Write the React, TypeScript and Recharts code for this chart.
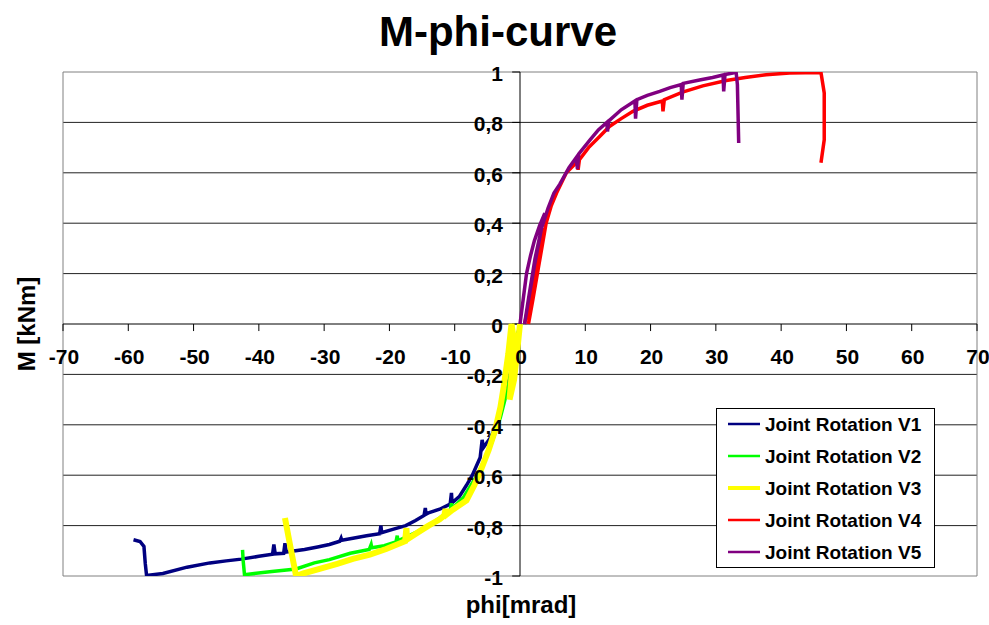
import React from 'react';
import {
  LineChart,
  Line,
  XAxis,
  YAxis,
  ReferenceLine,
  ReferenceDot,
  Legend
} from 'recharts';

// measured curves, phi in mrad, M in kNm
const phiV1 = [0, -0.7, -1.5, -2.3, -3.1, -3.2, -3.4, -4.5, -5.6, -5.8, -6.1, -7.3, -8.2, -9.3, -10.4, -10.5, -10.7, -12.3, -13.9, -14.4, -14.5, -14.7, -16, -17.5, -19.5, -21.2, -21.3, -21.5, -23.5, -25.6, -27.3, -27.4, -27.6, -29.2, -31, -33, -35.8, -36, -36.2, -37.5, -37.7, -37.9, -40, -42.7, -45, -47.5, -51, -54.7, -57.2, -57.4, -57.6, -58.2, -59.2];
const mV1 = [0, -0.09, -0.2, -0.29, -0.36, -0.34, -0.39, -0.45, -0.49, -0.46, -0.53, -0.6, -0.64, -0.685, -0.71, -0.67, -0.715, -0.735, -0.748, -0.755, -0.73, -0.76, -0.78, -0.8, -0.815, -0.828, -0.8, -0.832, -0.84, -0.85, -0.858, -0.85, -0.862, -0.875, -0.885, -0.895, -0.905, -0.87, -0.91, -0.912, -0.875, -0.914, -0.922, -0.933, -0.94, -0.948, -0.965, -0.99, -0.998, -0.95, -0.883, -0.863, -0.856];

const phiV2 = [0, -0.8, -1.8, -3, -4.3, -5.6, -6.8, -8, -8.7, -10.3, -10.5, -10.7, -12.3, -13.8, -16, -18.7, -18.8, -19, -20.8, -22.7, -22.8, -23.1, -26, -29.2, -31.5, -34.3, -38, -42.2, -42.4, -42.5];
const mV2 = [0, -0.1, -0.25, -0.37, -0.47, -0.55, -0.61, -0.66, -0.69, -0.73, -0.712, -0.74, -0.77, -0.796, -0.828, -0.86, -0.84, -0.865, -0.88, -0.888, -0.875, -0.895, -0.91, -0.935, -0.948, -0.972, -0.982, -0.995, -0.94, -0.896];

const phiV3 = [0, -0.4, -0.9, -1.6, -1.2, -1, -1.3, -1.8, -2.5, -3, -3.8, -4.8, -6, -7, -8.2, -10.3, -11.2, -11.4, -11.6, -12.3, -14, -15.4, -17.3, -17.4, -17.6, -20.5, -23, -25.6, -28, -30.7, -33.2, -34.3, -35.2, -36];
const mV3 = [0, -0.1, -0.22, -0.3, -0.18, -0.05, 0, -0.12, -0.25, -0.33, -0.42, -0.5, -0.58, -0.64, -0.7, -0.737, -0.755, -0.735, -0.76, -0.775, -0.8, -0.823, -0.855, -0.81, -0.862, -0.893, -0.915, -0.932, -0.952, -0.972, -0.99, -1, -0.88, -0.77];

const phiV4 = [0.7, 1.5, 2.3, 3, 3.5, 3, 2, 1.3, 2, 2.8, 3.4, 4, 4.8, 5.6, 7.1, 8.8, 8.9, 9.1, 10.5, 12.2, 13.7, 15.5, 17.3, 19.5, 21.8, 21.9, 22.1, 24.9, 28, 31.6, 34.5, 37.7, 41.3, 46.1, 46.6, 46.6, 46.1];
const mV4 = [0, 0.1, 0.22, 0.32, 0.38, 0.32, 0.14, 0, 0.1, 0.22, 0.31, 0.4, 0.47, 0.52, 0.6, 0.645, 0.612, 0.652, 0.7, 0.744, 0.784, 0.815, 0.844, 0.868, 0.885, 0.844, 0.89, 0.92, 0.945, 0.966, 0.978, 0.989, 0.996, 0.998, 0.917, 0.731, 0.64];

const phiV5 = [0, 0.5, 1, 1.6, 2.2, 3, 3.8, 3.3, 2.2, 1.2, 0.7, 1.3, 2.3, 3.3, 4.3, 5.2, 6.1, 7.5, 8.6, 8.8, 9, 10.7, 12, 13.3, 13.4, 13.6, 15.5, 17.6, 17.7, 17.9, 19.5, 21.4, 23, 24.7, 24.8, 25, 27.5, 29.5, 31.1, 31.2, 31.4, 32.6, 33.1, 33.3, 33.5];
const mV5 = [0, 0.1, 0.2, 0.27, 0.33, 0.39, 0.44, 0.38, 0.23, 0.08, 0, 0.1, 0.26, 0.38, 0.46, 0.52, 0.555, 0.62, 0.66, 0.615, 0.675, 0.73, 0.77, 0.8, 0.764, 0.806, 0.85, 0.885, 0.815, 0.89, 0.907, 0.923, 0.938, 0.95, 0.89, 0.955, 0.968, 0.978, 0.988, 0.923, 0.99, 0.996, 1, 0.95, 0.718];

const xTicks = [-70, -60, -50, -40, -30, -20, -10, 0, 10, 20, 30, 40, 50, 60, 70];
const yTicks = [-1, -0.8, -0.6, -0.4, -0.2, 0, 0.2, 0.4, 0.6, 0.8, 1];

const toRows = (phi: number[], m: number[]) => phi.map((x, i) => ({ x, y: m[i] }));

const series = [
  { name: 'Joint Rotation V1', color: '#000080', width: 3.5, data: toRows(phiV1, mV1) },
  { name: 'Joint Rotation V2', color: '#00FF00', width: 3.5, data: toRows(phiV2, mV2) },
  { name: 'Joint Rotation V3', color: '#FFFF00', width: 6, data: toRows(phiV3, mV3) },
  { name: 'Joint Rotation V4', color: '#FF0000', width: 3.5, data: toRows(phiV4, mV4) },
  { name: 'Joint Rotation V5', color: '#800080', width: 3.5, data: toRows(phiV5, mV5) }
];

const FONT = '"Liberation Sans", Arial, sans-serif';

const fmt = (v: number) => String(Math.round(v * 10) / 10).replace('.', ',');

function LegendBox(props: any) {
  const items = props.payload || [];
  return (
    <svg width={219} height={160} style={{ display: 'block' }}>
      <rect x={0.5} y={0.5} width={218} height={159} fill="#fff" stroke="#000" />
      {items.map((item: any, i: number) => {
        const s = series.find((d) => d.name === item.value);
        const cy = 16 + i * 32;
        return (
          <g key={item.value}>
            <line x1={12} x2={44} y1={cy} y2={cy} stroke={item.color} strokeWidth={s && s.width > 4 ? 4 : 2.5} />
            <text x={49} y={cy + 7} fontFamily={FONT} fontWeight="bold" fontSize={19} fill="#000">
              {item.value}
            </text>
          </g>
        );
      })}
    </svg>
  );
}

export default function App() {
  return (
    <div style={{ position: 'absolute', left: 0, top: 0, width: 989, height: 625, background: '#fff' }}>
      <LineChart
        width={989}
        height={625}
        margin={{ top: 72, right: 12, bottom: 49, left: 63 }}
      >
        <XAxis dataKey="x" type="number" domain={[-70, 70]} ticks={xTicks} allowDataOverflow hide />
        <YAxis dataKey="y" type="number" domain={[-1, 1]} ticks={yTicks} allowDataOverflow hide />

        {yTicks.filter((v) => Math.abs(v) > 0.01 && Math.abs(v) < 0.99).map((v) => (
          <ReferenceLine key={'g' + v} y={v} stroke="#222" strokeWidth={1} />
        ))}
        <ReferenceLine y={1} stroke="#808080" />
        <ReferenceLine y={-1} stroke="#808080" />
        <ReferenceLine x={-70} stroke="#808080" />
        <ReferenceLine x={70} stroke="#808080" />
        <ReferenceLine y={0} stroke="#000" />
        <ReferenceLine x={0} stroke="#000" />
        {xTicks.map((v) => (
          <ReferenceLine key={'xt' + v} segment={[{ x: v, y: 0 }, { x: v, y: -0.028 }]} stroke="#000" />
        ))}
        {yTicks.map((v) => (
          <ReferenceLine key={'yt' + v} segment={[{ x: -1.2, y: v }, { x: 0, y: v }]} stroke="#000" />
        ))}

        {series.map((s) => (
          <Line
            key={s.name}
            data={s.data}
            dataKey="y"
            name={s.name}
            type="linear"
            stroke={s.color}
            strokeWidth={s.width}
            dot={false}
            activeDot={false}
            isAnimationActive={false}
          />
        ))}

        {xTicks.map((v) => (
          <ReferenceDot
            key={'xl' + v}
            x={v}
            y={0}
            r={0}
            ifOverflow="visible"
            shape={(p: any) => (
              <text x={p.cx + 1} y={p.cy + 40} textAnchor="middle" fontFamily={FONT} fontWeight="bold" fontSize={21} fill="#000">
                {fmt(v)}
              </text>
            )}
          />
        ))}
        {yTicks.map((v) => (
          <ReferenceDot
            key={'yl' + v}
            x={0}
            y={v}
            r={0}
            ifOverflow="visible"
            shape={(p: any) => (
              <text x={p.cx - 17} y={p.cy + 9} textAnchor="end" fontFamily={FONT} fontWeight="bold" fontSize={21} fill="#000">
                {fmt(v)}
              </text>
            )}
          />
        ))}

        <Legend
          layout="vertical"
          align="center"
          verticalAlign="middle"
          content={<LegendBox />}
          wrapperStyle={{ left: 716, top: 408, width: 219, height: 160 }}
        />
      </LineChart>

      <svg width={989} height={625} style={{ position: 'absolute', left: 0, top: 0, pointerEvents: 'none' }}>
        <text x={498} y={46} textAnchor="middle" fontFamily={FONT} fontWeight="bold" fontSize={42} fill="#000">
          M-phi-curve
        </text>
        <text x={521} y={613} textAnchor="middle" fontFamily={FONT} fontWeight="bold" fontSize={24} fill="#000">
          phi[mrad]
        </text>
        <text transform="translate(35,324) rotate(-90)" textAnchor="middle" fontFamily={FONT} fontWeight="bold" fontSize={24} fill="#000">
          M [kNm]
        </text>
      </svg>
    </div>
  );
}
